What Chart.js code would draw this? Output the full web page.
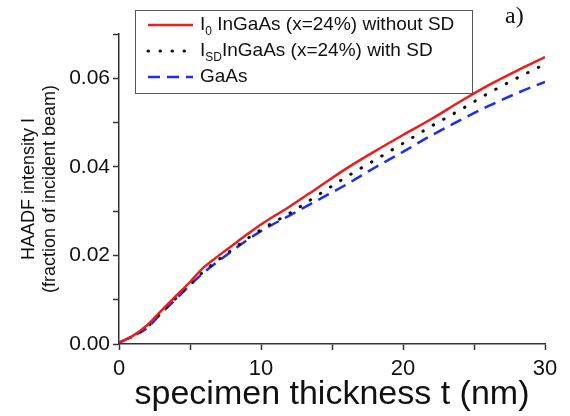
<!DOCTYPE html>
<html>
<head>
<meta charset="utf-8">
<script src="https://cdn.jsdelivr.net/npm/chart.js@4"></script>
<style>
  html, body { margin: 0; padding: 0; background: #fff; }
  #wrap { width: 570px; height: 416px; }
</style>
</head>
<body>
<div id="wrap"><canvas id="myChart" width="570" height="416"></canvas></div>
<script>
// specimen thickness (nm)
var thickness = [0, 1, 2, 3, 4, 5, 6, 7, 8, 9, 10, 12, 14, 16, 18, 20, 22, 24, 26, 28, 30];
// HAADF intensity, fraction of incident beam
var inGaAsNoSD = [0.0003, 0.0019, 0.0043, 0.0076, 0.0108, 0.0140, 0.0174, 0.0199, 0.0223, 0.0247, 0.0270,
                  0.0310, 0.0353, 0.0396, 0.0435, 0.0472, 0.0508, 0.0547, 0.0584, 0.0617, 0.0648];
var inGaAsSD   = [0.0003, 0.0018, 0.0039, 0.0072, 0.0103, 0.0134, 0.0165, 0.0190, 0.0214, 0.0237, 0.0258,
                  0.0295, 0.0336, 0.0377, 0.0415, 0.0453, 0.0492, 0.0528, 0.0566, 0.0600, 0.0632];
var gaAs       = [0.0003, 0.0018, 0.0037, 0.0070, 0.0101, 0.0133, 0.0162, 0.0187, 0.0211, 0.0234, 0.0255,
                  0.0290, 0.0325, 0.0360, 0.0398, 0.0434, 0.0471, 0.0505, 0.0537, 0.0566, 0.0592];

// legend text pieces: main symbol, subscript, rest
var legendMain = ['I', 'I', 'GaAs'];
var legendSub  = ['0', 'SD', ''];
var legendRest = [' InGaAs (x=24%) without SD', 'InGaAs (x=24%) with SD', ''];

function pts(ys) {
  return thickness.map(function (t, i) { return { x: t, y: ys[i] }; });
}

var FONT = "'Liberation Sans', Arial, sans-serif";

var boxLegend = {
  id: 'boxLegend',
  afterDraw: function (chart) {
    var c = chart.ctx;
    c.save();
    c.fillStyle = '#fff';
    c.fillRect(135, 10, 337, 83);
    c.strokeStyle = '#555';
    c.lineWidth = 1;
    c.strokeRect(135.5, 10.5, 337, 83);
    var rows = [25, 51, 77];
    chart.data.datasets.forEach(function (ds, i) {
      var y = rows[i];
      c.beginPath();
      c.strokeStyle = ds.borderColor;
      c.lineWidth = ds.borderWidth;
      c.lineCap = ds.borderCapStyle || 'butt';
      c.setLineDash(ds.borderDash || []);
      c.moveTo(148, y);
      c.lineTo(193, y);
      c.stroke();
      c.setLineDash([]);
      c.fillStyle = '#111';
      c.textBaseline = 'middle';
      c.font = '19px ' + FONT;
      var x = 200;
      c.fillText(legendMain[i], x, y);
      x += c.measureText(legendMain[i]).width;
      if (legendSub[i]) {
        c.font = '12px ' + FONT;
        c.fillText(legendSub[i], x, y + 7);
        x += c.measureText(legendSub[i]).width;
      }
      c.font = '19px ' + FONT;
      c.fillText(legendRest[i], x, y);
    });
    c.font = "24px 'Liberation Serif', 'Times New Roman', serif";
    c.fillStyle = '#111';
    c.fillText('a)', 505, 17);
    c.restore();
  }
};

var ctx = document.getElementById('myChart').getContext('2d');
var myChart = new Chart(ctx, {
  type: 'line',
  data: {
    datasets: [{
      label: 'I0 InGaAs (x=24%) without SD',
      data: pts(inGaAsNoSD),
      borderColor: '#ee1c1c',
      borderWidth: 2.5,
      pointRadius: 0,
      cubicInterpolationMode: 'monotone'
    }, {
      label: 'ISD InGaAs (x=24%) with SD',
      data: pts(inGaAsSD),
      borderColor: '#111111',
      borderWidth: 3,
      borderDash: [0.5, 11.5],
      borderCapStyle: 'round',
      pointRadius: 0,
      cubicInterpolationMode: 'monotone'
    }, {
      label: 'GaAs',
      data: pts(gaAs),
      borderColor: '#1c2cf0',
      borderWidth: 2.5,
      borderDash: [12, 7],
      pointRadius: 0,
      cubicInterpolationMode: 'monotone'
    }]
  },
  options: {
    responsive: false,
    animation: false,
    layout: { padding: { top: 34, right: 25, left: 0, bottom: 0 } },
    plugins: { legend: { display: false }, tooltip: { enabled: false } },
    scales: {
      x: {
        type: 'linear',
        min: 0,
        max: 30,
        afterFit: function (s) { s.height = 72; },
        border: { color: '#333', width: 1.5 },
        grid: { drawOnChartArea: false, drawTicks: true, tickLength: 6, tickColor: '#333', tickWidth: 1.5 },
        ticks: {
          stepSize: 5,
          padding: 6,
          color: '#111',
          font: { family: FONT, size: 22 },
          maxRotation: 0,
          callback: function (v) { return v % 10 === 0 ? String(v) : ''; }
        },
        title: {
          display: true,
          text: 'specimen thickness t (nm)',
          color: '#111',
          font: { family: FONT, size: 34 },
          padding: { top: 0, bottom: 1 }
        }
      },
      y: {
        min: 0,
        max: 0.07,
        afterFit: function (s) { s.width = 119; },
        border: { color: '#333', width: 1.5 },
        grid: { drawOnChartArea: false, drawTicks: true, tickLength: 6, tickColor: '#333', tickWidth: 1.5 },
        ticks: {
          stepSize: 0.01,
          padding: 3,
          color: '#111',
          font: { family: FONT, size: 21 },
          callback: function (v) {
            var k = Math.round(v * 100);
            return k % 2 === 0 ? (k / 100).toFixed(2) : '';
          }
        },
        title: {
          display: true,
          text: ['HAADF intensity I', '(fraction of incident beam)'],
          color: '#111',
          font: { family: FONT, size: 18 },
          padding: { top: 18, bottom: 0 }
        }
      }
    }
  },
  plugins: [boxLegend]
});
</script>
</body>
</html>
